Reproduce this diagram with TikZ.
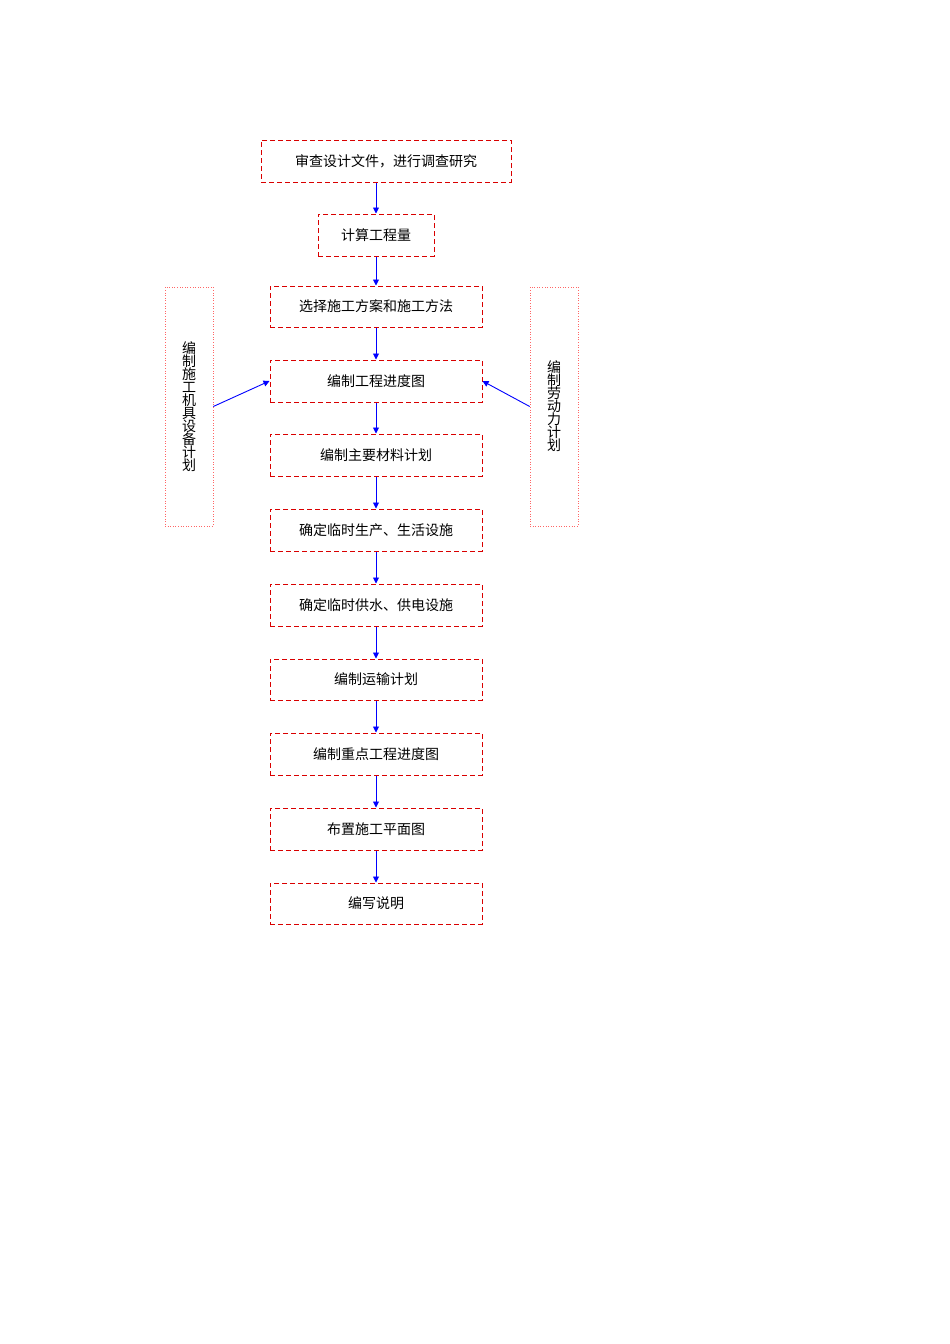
\documentclass[tikz,border=0pt]{standalone}
\usepackage{fontspec}
\setmainfont{Noto Sans CJK SC}
\usetikzlibrary{arrows.meta}
\begin{document}
\begin{tikzpicture}[x=1pt,y=-1pt,
  box/.style={draw=red!85!black,dashed,dash pattern=on 5pt off 3pt,line width=1pt,font=\fontsize{14}{16}\selectfont},
  side/.style={draw=red!60,dotted,line width=0.6pt,font=\fontsize{14}{16}\selectfont,align=center},
  arr/.style={draw=blue,line width=0.9pt,-{Triangle[length=6pt,width=6pt]}}]
\useasboundingbox (0,0) rectangle (950,1344);
\newcommand\bx[6]{\node[box,minimum width=#3-#2,minimum height=#5-#4] (#1) at ({(#2+#3)/2},{(#4+#5)/2}) {#6};}
\bx{a}{261}{511}{140}{182}{审查设计文件，进行调查研究}
\bx{b}{318}{434}{214}{256}{计算工程量}
\bx{c}{270}{482}{286}{327}{选择施工方案和施工方法}
\bx{d}{270}{482}{360}{402}{编制工程进度图}
\bx{e}{270}{482}{434}{476}{编制主要材料计划}
\bx{f}{270}{482}{509}{551}{确定临时生产、生活设施}
\bx{g}{270}{482}{584}{626}{确定临时供水、供电设施}
\bx{h}{270}{482}{659}{700}{编制运输计划}
\bx{i}{270}{482}{733}{775}{编制重点工程进度图}
\bx{j}{270}{482}{808}{850}{布置施工平面图}
\bx{k}{270}{482}{883}{924}{编写说明}
\node[side,minimum width=48,minimum height=239,inner sep=0] (L) at (189,406.5) {编\\[-3pt]制\\[-3pt]施\\[-3pt]工\\[-3pt]机\\[-3pt]具\\[-3pt]设\\[-3pt]备\\[-3pt]计\\[-3pt]划};
\node[side,minimum width=48,minimum height=239,inner sep=0] (R) at (554,406.5) {编\\[-3pt]制\\[-3pt]劳\\[-3pt]动\\[-3pt]力\\[-3pt]计\\[-3pt]划};
\draw[arr] (a.south -| 376,0) -- (b.north -| 376,0);
\foreach \p/\q in {b/c,c/d,d/e,e/f,f/g,g/h,h/i,i/j,j/k}
  \draw[arr] (\p.south) -- (\q.north);
\draw[arr] (L.east) -- (d.west);
\draw[arr] (R.west) -- (d.east);
\end{tikzpicture}
\end{document}
